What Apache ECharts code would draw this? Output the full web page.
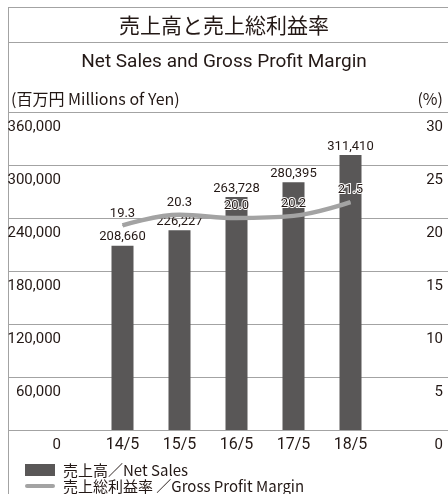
<!DOCTYPE html>
<html>
<head>
<meta charset="utf-8">
<script src="https://cdn.jsdelivr.net/npm/echarts@6/dist/echarts.min.js"></script>
<style>
  html, body { margin: 0; padding: 0; background: #fff; }
  #chart { width: 448px; height: 494px; }
</style>
</head>
<body>
<div id="chart"></div>
<script>
// data
const categories = ['14/5', '15/5', '16/5', '17/5', '18/5'];
const netSales = [208660, 226227, 263728, 280395, 311410];
const grossMargin = [19.3, 20.3, 20.0, 20.2, 21.5];
const seriesNames = ['売上高／Net Sales', '売上総利益率 ／Gross Profit Margin'];

const NUM_FONT = 'Roboto, sans-serif';
const JP_FONT = '"Noto Sans CJK JP", sans-serif';
const TEXT = '#231815';
const LINE = '#a3a3a3';

const chart = echarts.init(document.getElementById('chart'));

const legendBase = {
    orient: 'vertical',
    left: 25,
    itemWidth: 30,
    itemHeight: 12,
    padding: 0,
    selectedMode: false,
    textStyle: { color: TEXT, fontFamily: JP_FONT, fontSize: 15, lineHeight: 16, padding: [0, 0, 0, 3] }
};

chart.setOption({
    animation: false,
    title: [
        {
            text: '売上高と売上総利益率',
            left: 'center',
            top: 10,
            textStyle: { color: TEXT, fontFamily: JP_FONT, fontSize: 21, fontWeight: 'normal' }
        },
        {
            text: 'Net Sales and Gross Profit Margin',
            left: 'center',
            top: 48,
            textStyle: { color: TEXT, fontFamily: 'Roboto, sans-serif', fontSize: 19, fontWeight: 'normal' }
        }
    ],
    // frame lines
    graphic: [
        { type: 'line', shape: { x1: 8.5, y1: 7.5, x2: 8.5, y2: 494 }, style: { stroke: LINE, lineWidth: 1 } },
        { type: 'line', shape: { x1: 8, y1: 7.5, x2: 448, y2: 7.5 }, style: { stroke: LINE, lineWidth: 1 } },
        { type: 'line', shape: { x1: 8, y1: 42.5, x2: 448, y2: 42.5 }, style: { stroke: LINE, lineWidth: 1 } }
    ],
    legend: [
        Object.assign({}, legendBase, {
            top: 462,
            data: [{ name: seriesNames[0], icon: 'rect' }]
        }),
        Object.assign({}, legendBase, {
            top: 478,
            data: [{ name: seriesNames[1], icon: 'path://M2,0 h26 a2,2 0 0 1 0,4 h-26 a2,2 0 0 1 0,-4 z' }]
        })
    ],
    grid: [
        { left: 8, right: 0, top: 112, bottom: 64 },
        { left: 94, right: 69, top: 112, bottom: 64 }
    ],
    xAxis: [
        { gridIndex: 0, type: 'value', min: 0, max: 1, show: false },
        {
            gridIndex: 1,
            type: 'category',
            data: categories,
            axisLine: { show: false },
            axisTick: { show: false },
            axisLabel: { color: TEXT, fontFamily: NUM_FONT, fontSize: 16, margin: 7, verticalAlign: 'top' }
        }
    ],
    yAxis: [
        {
            gridIndex: 0,
            type: 'value',
            position: 'left',
            min: 0,
            max: 360000,
            interval: 60000,
            name: '(百万円 Millions of Yen)',
            nameLocation: 'end',
            nameGap: 5,
            nameTextStyle: { color: TEXT, fontFamily: JP_FONT, fontSize: 16, align: 'left', verticalAlign: 'bottom', padding: [0, 0, 0, 3] },
            axisLine: { show: false },
            axisTick: { show: false },
            splitLine: { lineStyle: { color: LINE, width: 1 } },
            axisLabel: {
                inside: true,
                margin: 53,
                align: 'right',
                verticalAlign: 'top',
                padding: [8, 0, 0, 0],
                color: TEXT,
                fontFamily: NUM_FONT,
                fontSize: 15,
                formatter: v => v.toLocaleString('en-US')
            }
        },
        {
            gridIndex: 0,
            type: 'value',
            position: 'right',
            min: 0,
            max: 30,
            interval: 5,
            name: '(%)',
            nameLocation: 'end',
            nameGap: 5,
            nameTextStyle: { color: TEXT, fontFamily: JP_FONT, fontSize: 16, align: 'right', verticalAlign: 'bottom', padding: [0, 5, 0, 0] },
            axisLine: { show: false },
            axisTick: { show: false },
            splitLine: { show: false },
            axisLabel: {
                inside: true,
                margin: 5,
                align: 'right',
                verticalAlign: 'top',
                padding: [8, 0, 0, 0],
                color: TEXT,
                fontFamily: NUM_FONT,
                fontSize: 15
            }
        },
        { gridIndex: 1, type: 'value', min: 0, max: 360000, show: false, splitLine: { show: false } },
        { gridIndex: 1, type: 'value', position: 'right', min: 0, max: 30, show: false, splitLine: { show: false } }
    ],
    series: [
        {
            name: seriesNames[0],
            type: 'bar',
            xAxisIndex: 1,
            yAxisIndex: 2,
            barWidth: 22,
            itemStyle: { color: '#595757' },
            label: {
                show: true,
                position: 'top',
                distance: 2,
                color: TEXT,
                fontFamily: NUM_FONT,
                fontSize: 13,
                formatter: p => p.value.toLocaleString('en-US')
            },
            data: netSales
        },
        {
            name: seriesNames[1],
            type: 'line',
            xAxisIndex: 1,
            yAxisIndex: 3,
            smooth: 0.4,
            symbol: 'circle',
            symbolSize: 1,
            showSymbol: true,
            z: 5,
            itemStyle: { color: LINE },
            lineStyle: { color: LINE, width: 4.5 },
            label: {
                show: true,
                position: 'top',
                distance: 5,
                color: TEXT,
                fontFamily: NUM_FONT,
                fontSize: 13,
                textBorderColor: '#fff',
                textBorderWidth: 2,
                formatter: p => p.value.toFixed(1)
            },
            data: grossMargin
        }
    ]
});
</script>
</body>
</html>
